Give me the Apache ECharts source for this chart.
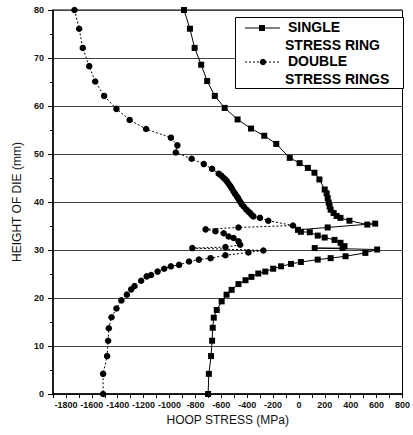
<!DOCTYPE html>
<html>
<head>
<meta charset="utf-8">
<script src="https://cdn.jsdelivr.net/npm/echarts@6/dist/echarts.min.js"></script>
<style>
html,body{margin:0;padding:0;background:#fff;}
#chart{width:413px;height:435px;}
</style>
</head>
<body>
<div id="chart"></div>
<script>
// Single stress ring (squares): hoop stress (MPa) and die height (mm), path order top -> bottom
const singleStress = [-888,-842,-806,-755,-709,-650,-574,-474,-370,-268,-175,-71,5,69,120,158,199,214,222,230,237,245,268,291,321,390,528,589,222,-8,15,84,145,199,275,321,352,337,122,604,513,360,245,145,15,-61,-138,-199,-260,-314,-367,-413,-467,-520,-559,-597,-635,-658,-666,-671,-679,-696,-702];
const singleHeight = [80,76.1,72.1,68.6,65.2,62.1,59.6,57.2,55.3,53.8,52.1,49.2,48.1,47.1,46.1,44.7,42.6,41.8,40.8,39.9,39.1,38.4,37.7,37.1,36.7,36.1,35.3,35.5,34.7,34.2,33.8,33.7,33.0,32.6,32.1,31.5,30.8,30.4,30.4,30.1,29.4,28.7,28.3,28.0,27.5,27.1,26.6,26.1,25.5,25.1,24.4,23.7,22.9,21.7,20.7,19.3,17.5,15.9,13.8,11.1,7.9,4.2,0];

// Double stress rings (circles)
const doubleStress = [-1734,-1698,-1670,-1620,-1574,-1505,-1410,-1308,-1181,-989,-939,-951,-829,-735,-671,-620,-600,-581,-568,-556,-543,-530,-518,-505,-493,-480,-470,-460,-450,-441,-425,-406,-390,-377,-365,-352,-301,-237,-46,-467,-721,-645,-581,-543,-505,-467,-454,-568,-824,-275,-390,-568,-683,-773,-849,-926,-989,-1041,-1092,-1142,-1176,-1219,-1270,-1296,-1329,-1372,-1410,-1448,-1469,-1474,-1482,-1513,-1513];
const doubleHeight = [80,76.1,72.1,68.3,65.1,62.1,59.4,57.1,55.2,53.4,51.8,50.3,49.0,47.9,46.9,45.9,45.5,45.0,44.7,44.3,43.8,43.3,42.8,42.2,41.7,41.2,40.8,40.3,39.9,39.5,39.0,38.4,38.0,37.7,37.3,37.0,36.7,36.1,35.1,34.7,34.3,33.9,33.5,32.8,32.5,31.8,31.1,30.6,30.4,29.9,29.5,28.9,28.3,28.0,27.6,26.9,26.6,26.1,25.5,24.8,24.5,23.6,22.5,21.8,20.7,19.5,17.8,16.0,13.7,11.1,7.9,4.2,0];

const xLabelValues = [-1800,-1600,-1400,-1200,-1000,-800,-600,-400,-200,0,200,400,600,800];
const xTickValues = [-1900,-1800,-1700,-1600,-1500,-1400,-1300,-1200,-1100,-1000,-900,-800,-700,-600,-500,-400,-300,-200,-100,0,100,200,300,400,500,600,700,800];
const seriesNames = ['SINGLE STRESS RING','DOUBLE STRESS RINGS'];

const singleData = singleStress.map((v,i)=>[v,singleHeight[i]]);
const doubleData = doubleStress.map((v,i)=>[v,doubleHeight[i]]);

const chart = echarts.init(document.getElementById('chart'), null, {renderer:'svg'});
const FONT = 'Liberation Sans, Arial, sans-serif';
chart.setOption({
  animation:false,
  backgroundColor:'#fff',
  grid:{left:53,right:7,top:10,bottom:41,show:true,borderColor:'#000',borderWidth:1},
  xAxis:{
    type:'value',min:-1900,max:800,
    name:'HOOP STRESS (MPa)',nameLocation:'middle',nameGap:20,
    nameTextStyle:{fontFamily:FONT,fontSize:12,color:'#111'},
    axisLine:{show:true,onZero:false,lineStyle:{color:'#000',width:1.5}},
    axisTick:{show:true,customValues:xTickValues,length:4,lineStyle:{color:'#000'}},
    axisLabel:{customValues:xLabelValues,margin:6,fontFamily:FONT,fontSize:9,fontWeight:'bold',color:'#111',formatter:v=>String(v)},
    splitLine:{show:false}
  },
  yAxis:{
    type:'value',min:0,max:80,interval:10,
    name:'HEIGHT OF DIE (mm)',nameLocation:'middle',nameGap:29,
    nameTextStyle:{fontFamily:FONT,fontSize:12,color:'#111'},
    axisLine:{show:true,onZero:false,lineStyle:{color:'#000',width:1.5}},
    axisTick:{show:true,length:5,lineStyle:{color:'#000'}},
    minorTick:{show:true,splitNumber:2,length:3,lineStyle:{color:'#000'}},
    axisLabel:{margin:9,fontFamily:FONT,fontSize:9,fontWeight:'bold',color:'#111'},
    splitLine:{show:true,lineStyle:{color:'#444',width:1}}
  },
  series:[
    {name:seriesNames[0],type:'line',data:singleData,symbol:'rect',symbolSize:6,
     itemStyle:{color:'#000'},lineStyle:{color:'#000',width:1},z:3},
    {name:seriesNames[1],type:'line',data:doubleData,symbol:'circle',symbolSize:6.5,
     itemStyle:{color:'#000'},lineStyle:{color:'#000',width:1,type:[2,2]},z:3}
  ],
  graphic:[
    {type:'rect',left:235,top:17,shape:{width:168,height:71},style:{fill:'#fff',stroke:'#000',lineWidth:1},z:10},
    {type:'line',shape:{x1:245,y1:28,x2:280,y2:28},style:{stroke:'#000',lineWidth:1},z:11},
    {type:'rect',shape:{x:259,y:25,width:6,height:6},style:{fill:'#000'},z:11},
    {type:'line',shape:{x1:245,y1:62,x2:280,y2:62},style:{stroke:'#000',lineWidth:1,lineDash:[2,2]},z:11},
    {type:'circle',shape:{cx:263,cy:62,r:3.2},style:{fill:'#000'},z:11},
    {type:'text',left:288,top:20,style:{text:'SINGLE',font:'bold 14px '+FONT,fill:'#000'},z:11},
    {type:'text',left:285,top:38,style:{text:'STRESS RING',font:'bold 14px '+FONT,fill:'#000'},z:11},
    {type:'text',left:288,top:54,style:{text:'DOUBLE',font:'bold 14px '+FONT,fill:'#000'},z:11},
    {type:'text',left:285,top:72,style:{text:'STRESS RINGS',font:'bold 14px '+FONT,fill:'#000'},z:11}
  ]
});
</script>
</body>
</html>
